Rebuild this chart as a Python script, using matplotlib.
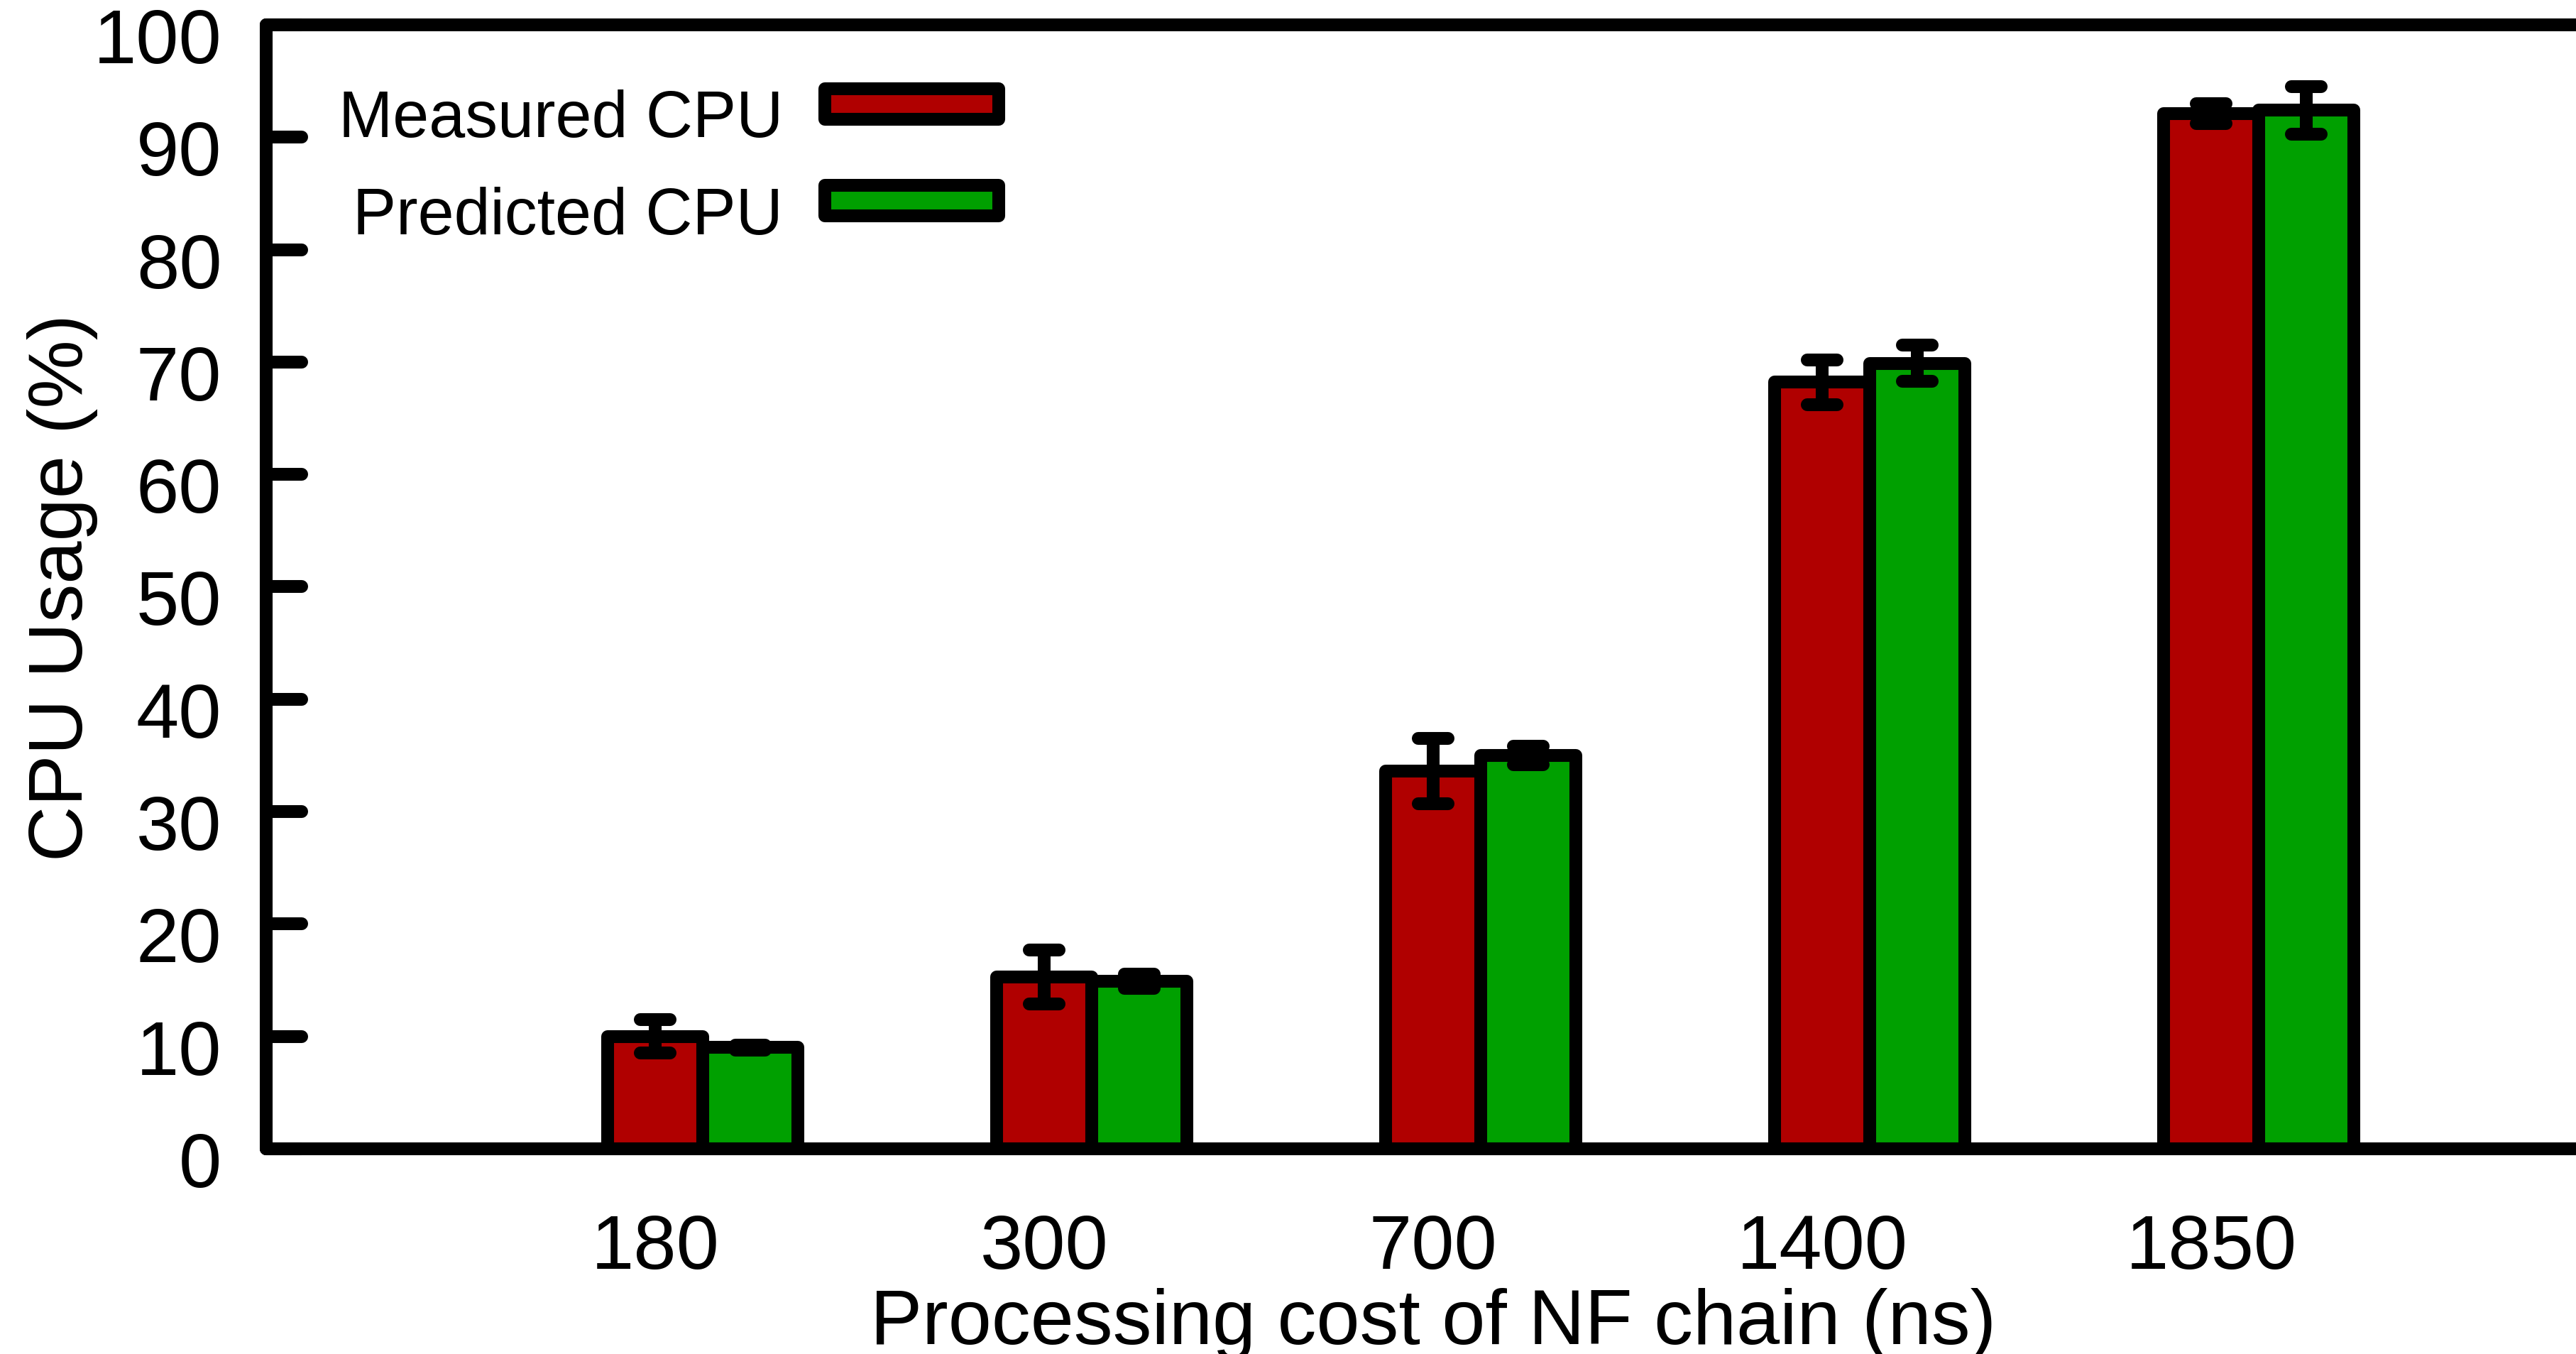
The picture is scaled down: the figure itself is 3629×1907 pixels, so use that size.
import matplotlib
matplotlib.use('Agg')
import matplotlib.pyplot as plt
from matplotlib.patches import Rectangle
from matplotlib.transforms import ScaledTranslation
from matplotlib.markers import MarkerStyle
import matplotlib.lines as mlines
import numpy as np

# ---- data ----
categories = ['180', '300', '700', '1400', '1850']
measured = [10.0, 15.3, 33.6, 68.2, 92.1]
measured_err = [1.5, 2.4, 2.9, 2.0, 0.9]
predicted = [9.0, 14.9, 35.0, 69.9, 92.4]
predicted_err = [0.2, 0.65, 0.8, 1.6, 2.1]
series_labels = ['Measured CPU', 'Predicted CPU']
series_colors = ['#b00000', '#00a000']
yticks = [0, 10, 20, 30, 40, 50, 60, 70, 80, 90, 100]
xlabel = 'Processing cost of NF chain (ns)'
ylabel = 'CPU Usage (%)'

plt.rcParams['font.family'] = ['Liberation Sans', 'DejaVu Sans']

fig = plt.figure(figsize=(36.3, 19.08), dpi=100)
ax = fig.add_axes([0.1033, 0.1515, 0.9058, 0.8296])

LW = 13
bw = 0.245
cap = 0.038
x = np.arange(1, len(categories) + 1)

series = [(x, measured, measured_err), (x + bw, predicted, predicted_err)]
for (xs, vals, errs), col in zip(series, series_colors):
    ax.bar(xs, vals, bw, color=col, edgecolor='black', linewidth=LW,
           joinstyle='round', zorder=2)
for xs, vals, errs in series:
    v = np.array(vals); e = np.array(errs)
    lo, hi = v - e, v + e
    ax.vlines(xs, lo, hi, colors='black', linewidth=LW, zorder=3)
    ax.hlines(lo, xs - cap, xs + cap, colors='black', linewidth=LW,
              capstyle='round', zorder=3)
    ax.hlines(hi, xs - cap, xs + cap, colors='black', linewidth=LW,
              capstyle='round', zorder=3)

ax.set_xlim(0, 6)
ax.set_ylim(0, 100)
ax.set_xticks(x)
ax.set_xticklabels(categories)
ax.set_yticks(yticks)

for s in ['top', 'left', 'bottom']:
    ax.spines[s].set_linewidth(LW)
    ax.spines[s].set_capstyle('round')
    ax.spines[s].set_zorder(4)
ax.spines['right'].set_visible(False)

ax.tick_params(axis='y', direction='in', length=36, width=LW, labelsize=78,
               pad=45, right=False)
ax.tick_params(axis='x', length=0, labelsize=78, pad=65, top=False)

off = ScaledTranslation(0, -0.14, fig.dpi_scale_trans)
for t in ax.yaxis.get_major_ticks():
    t.label1.set_transform(t.label1.get_transform() + off)
    t.tick1line.set_marker(MarkerStyle(mlines.TICKRIGHT, capstyle='round'))

ax.set_xlabel(xlabel, fontsize=79)
ax.xaxis.set_label_coords(0.5, -0.1235)
ax.set_ylabel(ylabel, fontsize=78)
ax.yaxis.set_label_coords(-0.072, 0.5)

# legend (manual, gnuplot style: text then swatch)
sw_x, sw_w, sw_h = 0.2394, 0.0745, 0.02716
sw_y = [0.9160, 0.8301]
tx_x = 0.2215
tx_y = [0.9008, 0.8143]
for lab, col, sy, ty in zip(series_labels, series_colors, sw_y, tx_y):
    ax.add_patch(Rectangle((sw_x, sy), sw_w, sw_h, transform=ax.transAxes,
                           facecolor=col, edgecolor='black', linewidth=LW,
                           joinstyle='round', zorder=5, clip_on=False))
    ax.text(tx_x, ty, lab, transform=ax.transAxes, ha='right', va='baseline',
            fontsize=66, zorder=5)

fig.savefig('out.png', dpi=100)
